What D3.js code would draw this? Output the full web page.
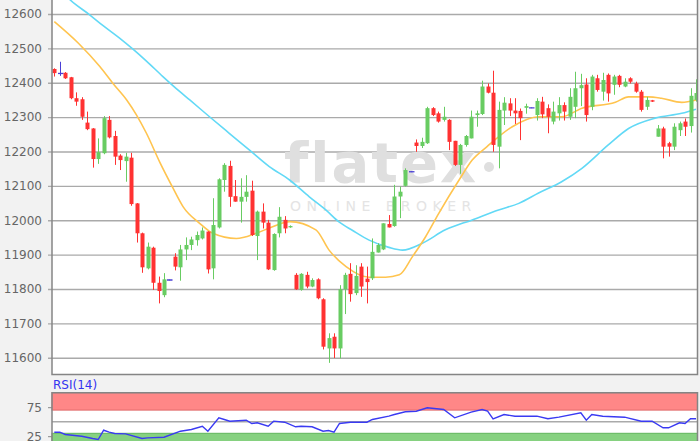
<!DOCTYPE html>
<html><head><meta charset="utf-8">
<script src="https://cdn.jsdelivr.net/npm/d3@7"></script>
<style>html,body{margin:0;padding:0;background:#f2f2f2;overflow:hidden}svg{display:block}</style>
</head><body><svg id="c" width="700" height="441"></svg>
<script>
const open=[12440,12427,12429,12416,12355,12352,12284,12267,12178,12195,
12292,12245,12188,12172,12182,12049,11962,11860,11920,11818,
11782,11826,11894,11863,11915,11928,11942,11947,11967,11860,
11979,12117,12158,12070,12054,12068,12086,11954,12025,11993,
11855,11962,12001,11980,11841,11797,11841,11807,11828,11770,
11627,11661,11627,11799,11844,11788,11865,11830,11831,11906,
11915,11989,11983,12069,12100,12141,12226,12216,12224,12326,
12311,12292,12292,12231,12161,12219,12238,12306,12309,12389,
12371,12214,12319,12340,12319,12318,12327,12327,12306,12345,
12326,12287,12311,12335,12301,12330,12384,12395,12330,12413,
12374,12423,12394,12420,12389,12413,12398,12374,12330,12349,
12243,12267,12224,12214,12262,12287,12274,12350];
const high=[12442,12461,12431,12417,12372,12358,12316,12268,12238,12303,
12303,12260,12192,12196,12196,12050,11964,11935,11923,11836,
11846,11827,11904,11928,11950,11952,11967,11979,11968,12064,
12122,12166,12173,12117,12122,12131,12115,12028,12049,12001,
11962,12038,12012,11985,11846,11846,11850,11831,11831,11773,
11671,11671,11811,11847,11875,11869,11875,11865,11947,11933,
11991,12015,12103,12098,12151,12142,12235,12240,12330,12329,
12316,12330,12294,12231,12222,12248,12319,12319,12406,12398,
12435,12345,12358,12355,12355,12325,12339,12328,12355,12359,
12337,12345,12358,12343,12384,12432,12426,12413,12423,12423,
12429,12427,12423,12423,12413,12416,12403,12379,12359,12350,
12277,12272,12228,12282,12287,12296,12384,12410];
const low=[12418,12420,12411,12352,12333,12292,12262,12153,12164,12192,
12238,12161,12146,12112,12042,11935,11847,11857,11797,11758,
11776,11825,11854,11824,11884,11913,11926,11944,11845,11828,
11976,12083,12039,12054,11993,12054,11954,11884,11976,11855,
11853,11950,11962,11978,11797,11795,11802,11805,11770,11624,
11585,11599,11598,11727,11763,11782,11777,11758,11826,11906,
11913,11979,11981,12006,12098,12140,12199,12210,12222,12303,
12284,12287,12204,12158,12135,12214,12238,12272,12306,12369,
12199,12151,12277,12303,12280,12233,12310,12326,12290,12297,
12253,12279,12290,12290,12292,12297,12332,12287,12320,12374,
12348,12345,12365,12387,12387,12398,12371,12316,12321,12344,
12243,12180,12185,12204,12245,12245,12255,12345];
const close=[12428,12427,12413,12355,12345,12301,12265,12178,12198,12297,
12241,12185,12175,12185,12047,11962,11863,11923,11818,11794,
11828,11826,11865,11915,11928,11944,11957,11970,11857,11986,
12119,12161,12068,12054,12068,12083,11957,12025,11993,11857,
11960,12010,11976,11983,11799,11844,11807,11826,11773,11632,
11657,11627,11799,11841,11785,11838,11807,11820,11908,11928,
11991,11979,12069,12083,12146,12141,12216,12228,12326,12306,
12287,12301,12228,12161,12219,12245,12301,12311,12389,12371,
12219,12321,12342,12319,12311,12297,12332,12327,12347,12308,
12301,12316,12335,12316,12359,12384,12393,12306,12418,12379,
12408,12369,12418,12394,12403,12403,12374,12321,12350,12345,
12267,12214,12214,12272,12282,12272,12362,12370];

const priceTicks=[11600,11700,11800,11900,12000,12100,12200,12300,12400,12500,12600];

// moving averages (position in candle units, value)
const maFastPos=[0,4.4,8.3,10.7,13.2,15,16.8,19.2,21.6,23.5,26.5,28.9,33.2,36.8,39.8,42.9,47.7,50.1,53.2,57.4,60.4,62.9,65.3,67.7,70.1,73.8,76.2,78.9,83.5,88.3,92.5,96.2,102.3,104.7,108.3,110.7,114.4,117];
const maFastVal=[12578,12515,12447,12398,12350,12306,12253,12170,12095,12039,11991,11962,11947,11962,11981,11996,11972,11913,11865,11834,11834,11841,11894,11952,12020,12117,12175,12214,12272,12301,12301,12326,12343,12359,12359,12355,12343,12350];
const maSlowPos=[0,2.9,6.5,8.9,11.9,14.4,16.8,19.8,22.9,24.7,28.3,31.9,35.6,39.2,42.9,46.5,49.5,51.9,54.4,57.4,61,63.5,67.1,71.3,76.2,81,84.7,88.3,92.5,96.2,101,104.7,109.5,114.4,117];
const maSlowVal=[12690,12641,12597,12566,12530,12497,12463,12418,12374,12350,12301,12253,12204,12156,12117,12068,12030,11995,11970,11942,11921,11913,11933,11972,12001,12030,12049,12079,12112,12151,12219,12267,12297,12311,12323];

const rsiPos=[0,1,2,5,7,8,9,10,11,13,16,17,20,23,25,27,28,30,31,32,35,36,37,39,40,42,44,45,47,49,50,51,52,54,57,58,61,62,64,66,68,71,73,76,78,79,80,82,84,88,90,92,96,97,98,100,104,107,109,111,112,114,115,116,117];
const rsiVal=[31.9,31.9,27.9,25,21,19.3,35.3,31.9,29.7,29.1,21,22.2,23.3,33.6,36.6,42.2,33.6,56.7,53.8,50.9,52.6,46.9,48.1,42.2,50.9,49.1,41.2,42.2,41.2,33.6,34.8,31.9,46.9,49.1,49.1,53.8,59.5,62.4,67.1,68.1,74,71,56.7,66.4,71,68.1,55,62.4,59.5,59.5,55,57.8,65.3,52.6,62.4,59.5,57.8,50.9,50.9,39.5,39.5,48.1,46.9,55,55];
const rsiTicks=[25,75];
const rsiUpper=[70,100], rsiLower=[0,30], rsiMid=50;

const W=700,H=441;
const L=52,R=697.5,T=-1,B=374.5,RT=392.7,RB=450.7;
const svg=d3.select('#c');
svg.append('rect').attr('width',W).attr('height',H).attr('fill','#f2f2f2');
svg.append('rect').attr('x',L).attr('y',T).attr('width',R-L).attr('height',B-T).attr('fill','#fff');

const x=d3.scaleLinear().domain([0,open.length-1]).range([54.3,696]);
const y=d3.scaleLinear().domain([11600,12600]).range([357.7,14]);
const ry=d3.scaleLinear().domain([0,100]).range([RB,RT]);

const font='"DejaVu Sans", Verdana, sans-serif';

// grid + labels
const ga=svg.append('g').attr('transform',`translate(${L-4},0)`)
  .call(d3.axisLeft(y).tickValues(priceTicks).tickSize(-(R-L+4)).tickPadding(6).tickFormat(d3.format('d')));
ga.select('.domain').remove();
ga.selectAll('line').attr('stroke','#aaa').attr('stroke-width',1.4);
ga.selectAll('text').attr('fill','#666').style('font-family',font).style('font-size','12px');

// watermark
const wm=svg.append('g');
wm.append('text').attr('x',284).attr('y',182).text('flatex')
  .style('font-family',font).style('font-size','56px').style('font-weight','bold').style('letter-spacing','2px').attr('fill','#dfdfdf');
wm.append('circle').attr('cx',489).attr('cy',167).attr('r',5).attr('fill','#dfdfdf');
wm.append('text').attr('x',290).attr('y',211).text('ONLINE BROKER')
  .style('font-family',font).style('font-size','14px').style('letter-spacing','5.5px').attr('fill','#e4e4e4');

const clip=svg.append('clipPath').attr('id','pc').append('rect').attr('x',L).attr('y',T).attr('width',R-L).attr('height',B-T);
const pg=svg.append('g').attr('clip-path','url(#pc)');

// MAs
const lineGen=d3.line().x(d=>x(d[0])).y(d=>y(d[1])).curve(d3.curveMonotoneX);
pg.append('path').datum(maSlowPos.map((p,i)=>[p,maSlowVal[i]])).attr('d',lineGen)
  .attr('fill','none').attr('stroke','#62d9f6').attr('stroke-width',1.6);
pg.append('path').datum(maFastPos.map((p,i)=>[p,maFastVal[i]])).attr('d',lineGen)
  .attr('fill','none').attr('stroke','#ffc44f').attr('stroke-width',1.6);

// candles
const col=i=>close[i]>open[i]?'#68cc62':(close[i]<open[i]?'#ff3232':'#4a3fd6');
const cg=pg.append('g');
open.forEach((o,i)=>{
  const cx=Math.round(x(i))+0.5;
  cg.append('line').attr('x1',cx).attr('x2',cx).attr('y1',y(high[i])).attr('y2',y(low[i]))
    .attr('stroke',col(i)).attr('stroke-width',1);
  if(close[i]===o){
    cg.append('line').attr('x1',cx-2.5).attr('x2',cx+3).attr('y1',y(o)).attr('y2',y(o))
      .attr('stroke',col(i)).attr('stroke-width',1.3);
  } else {
    const top=y(Math.max(o,close[i])), bot=y(Math.min(o,close[i]));
    cg.append('rect').attr('x',cx-2).attr('width',4).attr('y',top).attr('height',Math.max(1.3,bot-top)).attr('fill',col(i));
  }
});

// main frame
svg.append('path').attr('d',`M${L},${T}V${B}H${R}V${T}`).attr('fill','none').attr('stroke','#858585').attr('stroke-width',1.5);

// RSI panel
svg.append('rect').attr('x',L).attr('y',RT).attr('width',R-L).attr('height',H-RT+2).attr('fill','#fff');
svg.append('rect').attr('x',L).attr('y',ry(rsiUpper[1])).attr('width',R-L).attr('height',ry(rsiUpper[0])-ry(rsiUpper[1]))
  .attr('fill','#ff8787').attr('stroke','#e06a6a').attr('stroke-width',1);
svg.append('rect').attr('x',L).attr('y',ry(rsiLower[1])).attr('width',R-L).attr('height',ry(rsiLower[0])-ry(rsiLower[1]))
  .attr('fill','#86d180').attr('stroke','#5fb55a').attr('stroke-width',1);
svg.append('line').attr('x1',L).attr('x2',R).attr('y1',ry(rsiMid)).attr('y2',ry(rsiMid)).attr('stroke','#aaa').attr('stroke-width',1.4);
const ra=svg.append('g').attr('transform',`translate(${L},0)`).call(d3.axisLeft(ry).tickValues(rsiTicks).tickSize(4).tickPadding(6));
ra.select('.domain').remove();
ra.selectAll('line').attr('stroke','#888');
ra.selectAll('text').attr('fill','#666').style('font-family',font).style('font-size','12px');
svg.append('path').datum(rsiPos.map((p,i)=>[p,rsiVal[i]]))
  .attr('d',d3.line().x(d=>x(d[0])).y(d=>ry(d[1])))
  .attr('fill','none').attr('stroke','#3a3af2').attr('stroke-width',1.4);
svg.append('path').attr('d',`M${L},${H+2}V${RT}H${R}V${H+2}`).attr('fill','none').attr('stroke','#858585').attr('stroke-width',1.5);
svg.append('text').attr('x',53).attr('y',389).text('RSI(14)').attr('fill','#3434f0')
  .style('font-family',font).style('font-size','12px');
</script></body></html>
